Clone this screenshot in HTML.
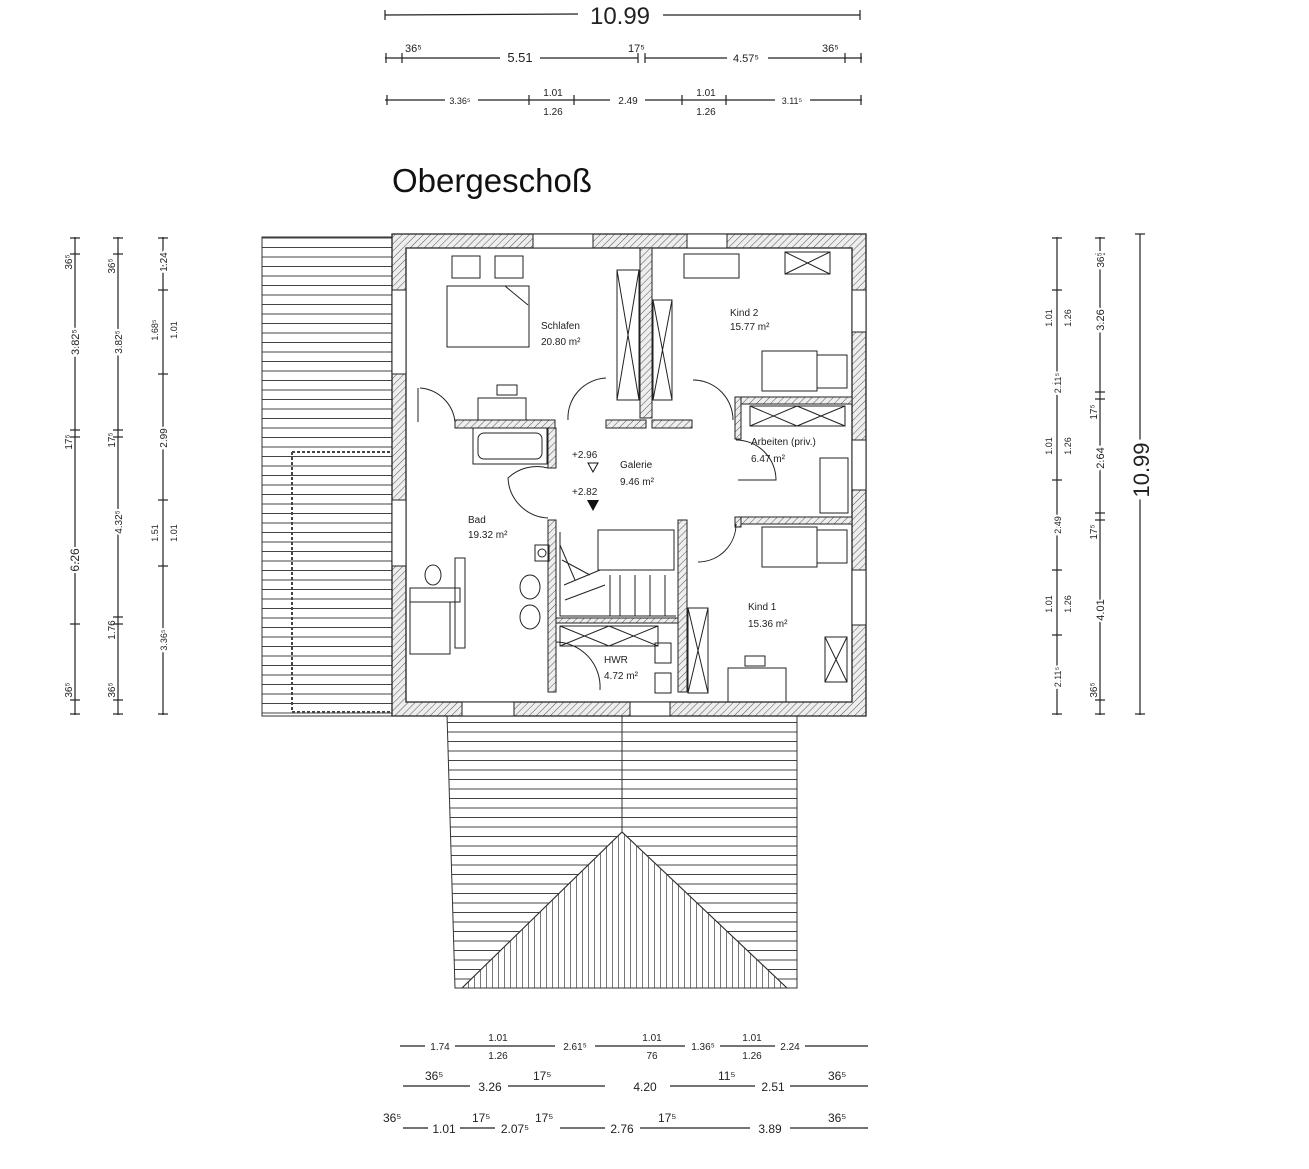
<!DOCTYPE html>
<html><head><meta charset="utf-8"><style>
html,body{margin:0;padding:0;background:#fff;}
svg{display:block;font-family:"Liberation Sans",sans-serif;}
</style></head><body>
<svg width="1309" height="1169" viewBox="0 0 1309 1169" xmlns="http://www.w3.org/2000/svg">
<defs>
<pattern id="hatch" width="5" height="5" patternUnits="userSpaceOnUse" patternTransform="rotate(45)">
<rect width="5" height="5" fill="#eee"/><line x1="0" y1="0" x2="0" y2="5" stroke="#555" stroke-width="1"/></pattern>
<pattern id="hl" width="10" height="9.5" patternUnits="userSpaceOnUse"><line x1="0" y1="0.5" x2="10" y2="0.5" stroke="#444" stroke-width="1"/></pattern>
<pattern id="vl" width="6" height="10" patternUnits="userSpaceOnUse"><line x1="0.5" y1="0" x2="0.5" y2="10" stroke="#555" stroke-width="0.8"/></pattern>
</defs>
<rect width="1309" height="1169" fill="#fff"/>

<g stroke="#222" stroke-width="1.2" fill="none">
<line x1="385" y1="15" x2="578" y2="14"/><line x1="663" y1="15" x2="860" y2="15"/>
<line x1="385" y1="58" x2="500" y2="58"/><line x1="540" y1="58" x2="638" y2="58"/><line x1="645" y1="58" x2="727" y2="58"/><line x1="768" y1="58" x2="862" y2="58"/>
<line x1="385" y1="100" x2="445" y2="100"/><line x1="478" y1="100" x2="610" y2="100"/><line x1="645" y1="100" x2="775" y2="100"/><line x1="810" y1="100" x2="862" y2="100"/>
</g>
<g stroke="#222" stroke-width="1.2">
<line x1="385" y1="10" x2="385" y2="20"/><line x1="860" y1="10" x2="860" y2="20"/>
<line x1="386" y1="53" x2="386" y2="63"/><line x1="402" y1="53" x2="402" y2="63"/><line x1="638" y1="53" x2="638" y2="63"/><line x1="645" y1="53" x2="645" y2="63"/><line x1="845" y1="53" x2="845" y2="63"/><line x1="861" y1="53" x2="861" y2="63"/>
<line x1="387" y1="95" x2="387" y2="105"/><line x1="529" y1="95" x2="529" y2="105"/><line x1="574" y1="95" x2="574" y2="105"/><line x1="682" y1="95" x2="682" y2="105"/><line x1="726" y1="95" x2="726" y2="105"/><line x1="861" y1="95" x2="861" y2="105"/>
</g>
<g fill="#222" font-size="11">
<text x="620" y="24" font-size="24" text-anchor="middle">10.99</text>
<text x="405" y="52">36⁵</text><text x="520" y="62" font-size="13" text-anchor="middle">5.51</text><text x="628" y="52">17⁵</text><text x="746" y="62" text-anchor="middle">4.57⁵</text><text x="822" y="52">36⁵</text>
<text x="460" y="104" font-size="9" text-anchor="middle">3.36⁵</text><text x="553" y="96" font-size="10" text-anchor="middle">1.01</text><text x="553" y="115" font-size="10" text-anchor="middle">1.26</text>
<text x="628" y="104" font-size="10" text-anchor="middle">2.49</text><text x="706" y="96" font-size="10" text-anchor="middle">1.01</text><text x="706" y="115" font-size="10" text-anchor="middle">1.26</text><text x="792" y="104" font-size="9" text-anchor="middle">3.11⁵</text>
</g>
<text x="392" y="192" font-size="33" fill="#111" textLength="200" lengthAdjust="spacingAndGlyphs">Obergeschoß</text>

<g stroke="#222" stroke-width="1.2">
<line x1="75" y1="237" x2="75" y2="715"/><line x1="118" y1="237" x2="118" y2="715"/><line x1="163" y1="237" x2="163" y2="715"/>
<line x1="70" y1="238" x2="80" y2="238"/><line x1="70" y1="254" x2="80" y2="254"/><line x1="70" y1="430" x2="80" y2="430"/><line x1="70" y1="437" x2="80" y2="437"/><line x1="70" y1="624" x2="80" y2="624"/><line x1="70" y1="700" x2="80" y2="700"/><line x1="70" y1="714" x2="80" y2="714"/>
<line x1="113" y1="238" x2="123" y2="238"/><line x1="113" y1="254" x2="123" y2="254"/><line x1="113" y1="430" x2="123" y2="430"/><line x1="113" y1="437" x2="123" y2="437"/><line x1="113" y1="617" x2="123" y2="617"/><line x1="113" y1="624" x2="123" y2="624"/><line x1="113" y1="700" x2="123" y2="700"/><line x1="113" y1="714" x2="123" y2="714"/>
<line x1="158" y1="238" x2="168" y2="238"/><line x1="158" y1="290" x2="168" y2="290"/><line x1="158" y1="374" x2="168" y2="374"/><line x1="158" y1="500" x2="168" y2="500"/><line x1="158" y1="566" x2="168" y2="566"/><line x1="158" y1="714" x2="168" y2="714"/>
<line x1="1057" y1="237" x2="1057" y2="715"/><line x1="1100" y1="237" x2="1100" y2="715"/><line x1="1140" y1="234" x2="1140" y2="715"/>
<line x1="1052" y1="238" x2="1062" y2="238"/><line x1="1052" y1="290" x2="1062" y2="290"/><line x1="1052" y1="383" x2="1062" y2="383"/><line x1="1052" y1="480" x2="1062" y2="480"/><line x1="1052" y1="570" x2="1062" y2="570"/><line x1="1052" y1="635" x2="1062" y2="635"/><line x1="1052" y1="714" x2="1062" y2="714"/>
<line x1="1095" y1="238" x2="1105" y2="238"/><line x1="1095" y1="254" x2="1105" y2="254"/><line x1="1095" y1="392" x2="1105" y2="392"/><line x1="1095" y1="399" x2="1105" y2="399"/><line x1="1095" y1="513" x2="1105" y2="513"/><line x1="1095" y1="520" x2="1105" y2="520"/><line x1="1095" y1="700" x2="1105" y2="700"/><line x1="1095" y1="714" x2="1105" y2="714"/>
<line x1="1135" y1="234" x2="1145" y2="234"/><line x1="1135" y1="714" x2="1145" y2="714"/>
</g>
<g fill="#222" font-size="10">
<text transform="translate(72,262) rotate(-90)" text-anchor="middle">36⁵</text>
<text transform="translate(79,342) rotate(-90)" text-anchor="middle" font-size="11" style="paint-order:stroke" stroke="#fff" stroke-width="4">3.82⁵</text>
<text transform="translate(72,442) rotate(-90)" text-anchor="middle">17⁵</text>
<text transform="translate(79,560) rotate(-90)" text-anchor="middle" font-size="12" style="paint-order:stroke" stroke="#fff" stroke-width="4">6.26</text>
<text transform="translate(72,690) rotate(-90)" text-anchor="middle">36⁵</text>
<text transform="translate(115,266) rotate(-90)" text-anchor="middle">36⁵</text>
<text transform="translate(122,342) rotate(-90)" text-anchor="middle" style="paint-order:stroke" stroke="#fff" stroke-width="4">3.82⁵</text>
<text transform="translate(115,440) rotate(-90)" text-anchor="middle">17⁵</text>
<text transform="translate(122,522) rotate(-90)" text-anchor="middle" style="paint-order:stroke" stroke="#fff" stroke-width="4">4.32⁵</text>
<text transform="translate(115,630) rotate(-90)" text-anchor="middle">1.76</text><text transform="translate(115,690) rotate(-90)" text-anchor="middle">36⁵</text>
<text transform="translate(167,262) rotate(-90)" text-anchor="middle" style="paint-order:stroke" stroke="#fff" stroke-width="4">1.24</text>
<text transform="translate(158,330) rotate(-90)" text-anchor="middle" font-size="9">1.68⁵</text><text transform="translate(177,330) rotate(-90)" text-anchor="middle" font-size="9">1.01</text>
<text transform="translate(167,438) rotate(-90)" text-anchor="middle" style="paint-order:stroke" stroke="#fff" stroke-width="4">2.99</text>
<text transform="translate(158,533) rotate(-90)" text-anchor="middle" font-size="9">1.51</text><text transform="translate(177,533) rotate(-90)" text-anchor="middle" font-size="9">1.01</text>
<text transform="translate(167,640) rotate(-90)" text-anchor="middle" style="paint-order:stroke" stroke="#fff" stroke-width="4" font-size="9">3.36⁵</text>
<text transform="translate(1052,318) rotate(-90)" text-anchor="middle" font-size="9">1.01</text><text transform="translate(1071,318) rotate(-90)" text-anchor="middle" font-size="9">1.26</text>
<text transform="translate(1061,383) rotate(-90)" text-anchor="middle" style="paint-order:stroke" stroke="#fff" stroke-width="4" font-size="9">2.11⁵</text>
<text transform="translate(1052,446) rotate(-90)" text-anchor="middle" font-size="9">1.01</text><text transform="translate(1071,446) rotate(-90)" text-anchor="middle" font-size="9">1.26</text>
<text transform="translate(1061,525) rotate(-90)" text-anchor="middle" style="paint-order:stroke" stroke="#fff" stroke-width="4" font-size="9">2.49</text>
<text transform="translate(1052,604) rotate(-90)" text-anchor="middle" font-size="9">1.01</text><text transform="translate(1071,604) rotate(-90)" text-anchor="middle" font-size="9">1.26</text>
<text transform="translate(1061,677) rotate(-90)" text-anchor="middle" style="paint-order:stroke" stroke="#fff" stroke-width="4" font-size="9">2.11⁵</text>
<text transform="translate(1104,260) rotate(-90)" text-anchor="middle" style="paint-order:stroke" stroke="#fff" stroke-width="4">36⁵</text>
<text transform="translate(1104,320) rotate(-90)" text-anchor="middle" style="paint-order:stroke" stroke="#fff" stroke-width="4" font-size="11">3.26</text>
<text transform="translate(1097,412) rotate(-90)" text-anchor="middle">17⁵</text>
<text transform="translate(1104,458) rotate(-90)" text-anchor="middle" style="paint-order:stroke" stroke="#fff" stroke-width="4" font-size="11">2.64</text>
<text transform="translate(1097,532) rotate(-90)" text-anchor="middle">17⁵</text>
<text transform="translate(1104,610) rotate(-90)" text-anchor="middle" style="paint-order:stroke" stroke="#fff" stroke-width="4" font-size="11">4.01</text>
<text transform="translate(1097,690) rotate(-90)" text-anchor="middle">36⁵</text>
<text transform="translate(1149,470) rotate(-90)" text-anchor="middle" font-size="22" style="paint-order:stroke" stroke="#fff" stroke-width="8">10.99</text>
</g>

<rect x="262" y="237" width="130" height="479" fill="url(#hl)" stroke="#333"/>
<path d="M292 452 H392 M292 452 V712 H392" stroke="#444" stroke-dasharray="3,2" fill="none" stroke-width="2"/>
<path d="M447 714 H797 V988 H455 Z" fill="url(#hl)" stroke="#333"/>
<line x1="622" y1="714" x2="622" y2="832" stroke="#333"/>
<path d="M622 832 L462 988 H787 Z" fill="#fff" stroke="#333"/>
<path d="M622 832 L462 988 H787 Z" fill="url(#vl)" stroke="#333"/>

<rect x="392" y="234" width="474" height="482" fill="#fff"/>
<path d="M392 234 H866 V716 H392 Z M406 248 V702 H852 V248 Z" fill="url(#hatch)" fill-rule="evenodd" stroke="#222" stroke-width="1.3"/>
<g fill="#fff" stroke="#222" stroke-width="1">
<rect x="533" y="234" width="60" height="14"/><rect x="687" y="234" width="40" height="14"/>
<rect x="392" y="290" width="14" height="84"/><rect x="392" y="500" width="14" height="66"/>
<rect x="852" y="290" width="14" height="42"/><rect x="852" y="440" width="14" height="50"/><rect x="852" y="570" width="14" height="55"/>
<rect x="462" y="702" width="52" height="14"/><rect x="630" y="702" width="40" height="14"/>
</g>
<g fill="url(#hatch)" stroke="#222" stroke-width="1">
<rect x="455" y="420" width="100" height="8"/><rect x="606" y="420" width="40" height="8"/><rect x="652" y="420" width="40" height="8"/>
<rect x="640" y="248" width="12" height="170"/>
<rect x="738" y="397" width="114" height="7"/><rect x="735" y="397" width="6" height="42"/>
<rect x="738" y="517" width="114" height="7"/><rect x="735" y="517" width="6" height="10"/>
<rect x="548" y="520" width="8" height="172"/><rect x="678" y="520" width="9" height="172"/>
<rect x="556" y="618" width="122" height="5"/>
<rect x="548" y="428" width="8" height="40"/>
</g>
<g fill="none" stroke="#222" stroke-width="1">
<rect x="447" y="286" width="82" height="61"/><rect x="452" y="256" width="28" height="22"/><rect x="495" y="256" width="28" height="22"/>
<path d="M505 286 L528 305"/>
<rect x="617" y="270" width="22" height="130"/><path d="M617 270 L639 400 M639 270 L617 400"/>
<rect x="653" y="300" width="19" height="100"/><path d="M653 300 L672 400 M672 300 L653 400"/>
<rect x="478" y="398" width="48" height="22"/><rect x="497" y="385" width="20" height="10"/>
<rect x="473" y="428" width="74" height="36"/><rect x="478" y="433" width="64" height="26" rx="6"/>
<rect x="684" y="254" width="55" height="24"/><rect x="785" y="252" width="45" height="22"/><path d="M785 252 L830 274 M830 252 L785 274"/>
<rect x="762" y="351" width="55" height="40"/><rect x="817" y="355" width="30" height="33"/>
<rect x="750" y="406" width="95" height="20"/><path d="M750 406 L797 426 M797 406 L750 426 M797 406 L845 426 M845 406 L797 426"/>
<rect x="820" y="458" width="28" height="55"/>
<rect x="762" y="527" width="55" height="40"/><rect x="817" y="530" width="30" height="33"/>
<rect x="825" y="637" width="22" height="45"/><path d="M825 637 L847 682 M847 637 L825 682"/>
<rect x="728" y="668" width="58" height="34"/><rect x="745" y="656" width="20" height="10"/>
<rect x="688" y="608" width="20" height="85"/><path d="M688 608 L708 693 M708 608 L688 693"/>
<rect x="560" y="626" width="98" height="20"/><path d="M560 626 L609 646 M609 626 L560 646 M609 626 L658 646 M658 626 L609 646"/>
<rect x="655" y="643" width="16" height="20"/><rect x="655" y="673" width="16" height="20"/>
<rect x="598" y="530" width="76" height="40"/>
<path d="M560 532 V616 H676 M575 580 L560 545 M590 575 L562 560 M600 570 L564 585 M605 585 L565 600 M620 575 V616 M635 575 V616 M650 575 V616 M665 575 V616 M610 575 V616"/>
<rect x="535" y="545" width="14" height="16"/><circle cx="542" cy="553" r="4"/>
<ellipse cx="530" cy="587" rx="10" ry="12"/><ellipse cx="530" cy="617" rx="10" ry="12"/>
<rect x="410" y="588" width="50" height="14"/><rect x="410" y="602" width="40" height="52"/>
<rect x="455" y="558" width="10" height="90"/><ellipse cx="433" cy="575" rx="8" ry="10"/>
<path d="M420 388 A 38 38 0 0 1 455 422 M418 388 V422"/>
<path d="M606 378 A 40 40 0 0 0 568 420"/>
<path d="M693 380 A 40 40 0 0 1 733 420"/>
<path d="M548 468 A 42 42 0 0 0 508 478 A 42 42 0 0 0 548 518"/>
<path d="M736 440 A 40 40 0 0 1 776 480 L738 480"/>
<path d="M736 524 A 38 38 0 0 1 698 562"/>
<path d="M556 642 A 45 45 0 0 1 600 690"/>
</g>
<path d="M587 500 L599 500 L593 511 Z" fill="#111"/>
<path d="M588 463 L598 463 L593 472 Z" fill="none" stroke="#111"/>
<g fill="#222" font-size="10">
<text x="541" y="329">Schlafen</text><text x="541" y="345">20.80 m²</text>
<text x="730" y="316">Kind 2</text><text x="730" y="330">15.77 m²</text>
<text x="751" y="445">Arbeiten (priv.)</text><text x="751" y="462">6.47 m²</text>
<text x="620" y="468">Galerie</text><text x="620" y="485">9.46 m²</text>
<text x="572" y="458">+2.96</text><text x="572" y="495">+2.82</text>
<text x="468" y="523">Bad</text><text x="468" y="538">19.32 m²</text>
<text x="748" y="610">Kind 1</text><text x="748" y="627">15.36 m²</text>
<text x="604" y="663">HWR</text><text x="604" y="679">4.72 m²</text>
</g>

<g stroke="#222" stroke-width="1.2">
<line x1="400" y1="1046" x2="425" y2="1046"/><line x1="455" y1="1046" x2="555" y2="1046"/><line x1="595" y1="1046" x2="685" y2="1046"/><line x1="720" y1="1046" x2="775" y2="1046"/><line x1="805" y1="1046" x2="868" y2="1046"/>
<line x1="403" y1="1086" x2="470" y2="1086"/><line x1="508" y1="1086" x2="605" y2="1086"/><line x1="670" y1="1086" x2="755" y2="1086"/><line x1="790" y1="1086" x2="868" y2="1086"/>
<line x1="403" y1="1128" x2="428" y2="1128"/><line x1="460" y1="1128" x2="495" y2="1128"/><line x1="560" y1="1128" x2="605" y2="1128"/><line x1="640" y1="1128" x2="750" y2="1128"/><line x1="790" y1="1128" x2="868" y2="1128"/>
</g>
<g fill="#222" font-size="10">
<text x="440" y="1050" text-anchor="middle">1.74</text><text x="498" y="1041" text-anchor="middle">1.01</text><text x="498" y="1059" text-anchor="middle">1.26</text>
<text x="575" y="1050" text-anchor="middle">2.61⁵</text><text x="652" y="1041" text-anchor="middle">1.01</text><text x="652" y="1059" text-anchor="middle">76</text>
<text x="703" y="1050" text-anchor="middle">1.36⁵</text><text x="752" y="1041" text-anchor="middle">1.01</text><text x="752" y="1059" text-anchor="middle">1.26</text><text x="790" y="1050" text-anchor="middle">2.24</text>
<text x="425" y="1080" font-size="12">36⁵</text><text x="490" y="1091" font-size="12" text-anchor="middle">3.26</text><text x="533" y="1080" font-size="12">17⁵</text>
<text x="645" y="1091" font-size="12" text-anchor="middle">4.20</text><text x="718" y="1080" font-size="12">11⁵</text><text x="773" y="1091" font-size="12" text-anchor="middle">2.51</text><text x="828" y="1080" font-size="12">36⁵</text>
<text x="383" y="1122" font-size="12">36⁵</text><text x="444" y="1133" font-size="12" text-anchor="middle">1.01</text><text x="472" y="1122" font-size="12">17⁵</text>
<text x="515" y="1133" font-size="12" text-anchor="middle">2.07⁵</text><text x="535" y="1122" font-size="12">17⁵</text><text x="622" y="1133" font-size="12" text-anchor="middle">2.76</text>
<text x="658" y="1122" font-size="12">17⁵</text><text x="770" y="1133" font-size="12" text-anchor="middle">3.89</text><text x="828" y="1122" font-size="12">36⁵</text>
</g>
</svg>
</body></html>
